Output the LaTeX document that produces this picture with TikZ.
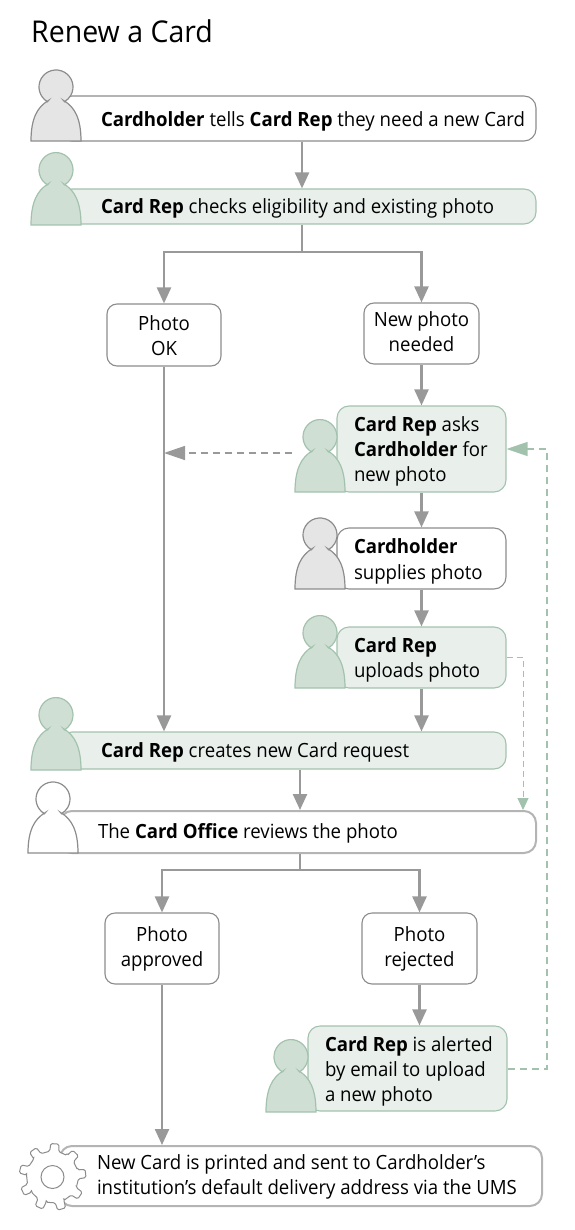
\documentclass[tikz,border=0pt]{standalone}
\usepackage{fontspec}
\setmainfont{Open Sans}[FakeStretch=0.95]
\usetikzlibrary{arrows.meta}
\definecolor{gline}{HTML}{999999}
\definecolor{edgeg}{HTML}{8C8C8C}
\definecolor{edgel}{HTML}{B4B4B4}
\definecolor{grn}{HTML}{A3C2AE}
\definecolor{grnfill}{HTML}{E9F0EC}
\definecolor{persg}{HTML}{D0DFD4}
\definecolor{persw}{HTML}{E5E5E5}
\tikzset{
  bx/.style={rounded corners=#1,line width=1.1pt,inner sep=0pt,font=\fontsize{19.6}{25}\selectfont,align=flush left},
  bx/.default=12pt,
  dn/.style={execute at begin node={\leavevmode\rule{0pt}{#1}}},
  up/.style={execute at end node={\rule[-#1]{0pt}{0pt}}},
  whitebox/.style={bx,draw=edgeg,fill=white},
  lightbox/.style={bx,draw=edgel,line width=2pt,fill=white},
  greenbox/.style={bx,draw=grn,fill=grnfill},
  choice/.style={bx=10pt,draw=edgeg,fill=white,align=flush center},
  flow/.style={draw=gline,line width=2.4pt,-{Triangle[length=16pt,width=14pt]}},
  flowplain/.style={draw=gline,line width=2.4pt},
  gdash/.style={draw=gline,line width=1.4pt,dash pattern=on 7pt off 5pt,-{Triangle[length=21pt,width=14pt]}},
  sdash/.style={draw=grn,line width=1.4pt,dash pattern=on 7pt off 5pt},
  sdasharrow/.style={sdash,-{Triangle[length=21pt,width=14pt]}},
  thindash/.style={draw=grn,line width=1pt,dash pattern=on 6pt off 4pt,-{Triangle[length=12pt,width=11pt]}},
}
% person: options, centre x, bottom y, fill, outline
\newcommand{\persona}[5][]{%
  \draw[fill=#4,draw=#5,line width=1.2pt,shift={(#2,#3)},#1]
    (-25,0) .. controls (-25,-22) and (-19,-34) .. (-7.5,-40.5)
    -- (-8.5,-39.3) arc[start angle=120,end angle=420,radius=17] -- (7.5,-40.5)
    .. controls (19,-34) and (25,-22) .. (25,0) -- cycle;
}
\begin{document}
\begin{tikzpicture}[x=1pt,y=-1pt]
\useasboundingbox (0,0) rectangle (574,1230);
\node[anchor=base west,inner sep=0pt,font=\fontsize{30}{36}\selectfont] (title) at (31,43) {Renew a Card};

% guides
\coordinate (c1) at (302,0);
\coordinate (j1) at (302,252);
\coordinate (c2) at (300,0);
\coordinate (j2) at (300,870);
\coordinate (ask) at (292,453);
\coordinate (askend) at (164,453);
\coordinate (upr) at (523,657);
\coordinate (alr) at (547,1069);
\coordinate (alt) at (547,449);

% boxes
\node[whitebox,dn=20.7pt,minimum width=476pt,minimum height=45pt,text width=476pt] (b1) at (298,118.5)
  {\hspace*{41pt}\textbf{Cardholder} tells \textbf{Card Rep} they need a new Card};
\node[greenbox,dn=18.7pt,minimum width=476pt,minimum height=35pt,text width=476pt] (b2) at (298,206.5)
  {\hspace*{41pt}\textbf{Card Rep} checks eligibility and existing photo};
\node[choice,dn=16.7pt,minimum width=114pt,minimum height=62pt,text width=114pt] (ok) at (164,335) {Photo\\OK};
\node[choice,up=4pt,minimum width=115pt,minimum height=61pt,text width=115pt] (new) at (421.5,333.5) {New photo\\needed};
\node[greenbox,dn=19.7pt,minimum width=169pt,minimum height=86pt,text width=169pt] (asks) at (421.5,449)
  {\hspace*{17pt}\textbf{Card Rep} asks\\\hspace*{17pt}\textbf{Cardholder} for\\\hspace*{17pt}new photo};
\node[whitebox,dn=20.7pt,minimum width=169pt,minimum height=61pt,text width=169pt] (sup) at (421.5,558.5)
  {\hspace*{17pt}\textbf{Cardholder}\\\hspace*{17pt}supplies photo};
\node[greenbox,dn=18.7pt,minimum width=169pt,minimum height=61pt,text width=169pt] (upl) at (421.5,657.5)
  {\hspace*{17pt}\textbf{Card Rep}\\\hspace*{17pt}uploads photo};
\node[greenbox,dn=18.7pt,minimum width=446pt,minimum height=37pt,text width=446pt] (req) at (283,750.5)
  {\hspace*{41pt}\textbf{Card Rep} creates new Card request};
\node[lightbox,dn=16.7pt,minimum width=476pt,minimum height=42pt,text width=476pt] (off) at (298,832)
  {\hspace*{38pt}The \textbf{Card Office} reviews the photo};
\node[choice,dn=15.7pt,minimum width=114pt,minimum height=71pt,text width=114pt] (app) at (162,948.5) {Photo\\approved};
\node[choice,dn=15.7pt,minimum width=115pt,minimum height=71pt,text width=115pt] (rej) at (419.5,948.5) {Photo\\rejected};
\node[greenbox,dn=20.7pt,minimum width=199pt,minimum height=85pt,text width=199pt] (ale) at (407.5,1068.5)
  {\hspace*{17pt}\textbf{Card Rep} is alerted\\\hspace*{17pt}by email to upload\\\hspace*{17pt}a new photo};
\node[lightbox,dn=16.7pt,minimum width=482pt,minimum height=60pt,text width=482pt] (prt) at (301,1176)
  {\hspace*{37pt}New Card is printed and sent to Cardholder’s\\\hspace*{37pt}institution’s default delivery address via the UMS};

% people
\persona{56}{141}{persw}{edgeg}
\persona[yscale=1.02]{56}{225}{persg}{grn}
\persona[yscale=1.02]{320}{492}{persg}{grn}
\persona{320}{589}{persw}{edgeg}
\persona[yscale=1.02]{320}{688}{persg}{grn}
\persona[yscale=1.02]{56}{770}{persg}{grn}
\persona{53}{853}{white}{edgeg}
\persona[yscale=1.02]{291}{1112}{persg}{grn}

% gear
\begin{scope}[shift={(52.5,1177)}]
  \draw[fill=white,draw=edgeg,line width=1pt,rounded corners=1.5pt,rotate=6]
    (-10:26)
    \foreach \a in {0,40,...,320}{
      -- (\a-10:26) -- (\a-7:33.5) -- (\a+7:33.5) -- (\a+10:26) -- (\a+30:26)
    } -- cycle;
  \draw[draw=edgeg,line width=1pt] (0,0) circle[radius=11.5];
\end{scope}

% connectors
\draw[flow] (b1.south -| c1) -- (b2.north -| c1);
\draw[flowplain] (b2.south -| c1) -- (j1);
\draw[flow] (j1) -| (ok.north);
\draw[flow] (j1) -| (new.north);
\draw[flow] (ok.south) -- (req.north -| ok);
\draw[flow] (new.south) -- (asks.north);
\draw[flow] (asks.south) -- (sup.north);
\draw[flow] (sup.south) -- (upl.north);
\draw[flow] (upl.south) -- (req.north -| upl);
\draw[flow] (req.south -| c2) -- (off.north -| c2);
\draw[flowplain] (off.south -| c2) -- (j2);
\draw[flow] (j2) -| (app.north);
\draw[flow] (j2) -| (rej.north);
\draw[flow] (app.south) -- (prt.north -| app);
\draw[flow] (rej.south) -- (ale.north -| rej);
\draw[gdash] (ask) -- (askend);
\draw[thindash] (upl.east |- upr) -- (upr) -- (off.north -| upr);
\draw[sdasharrow] (ale.east |- alr) -- (alr) -- (alt) -- (asks.east |- alt);
\end{tikzpicture}
\end{document}
